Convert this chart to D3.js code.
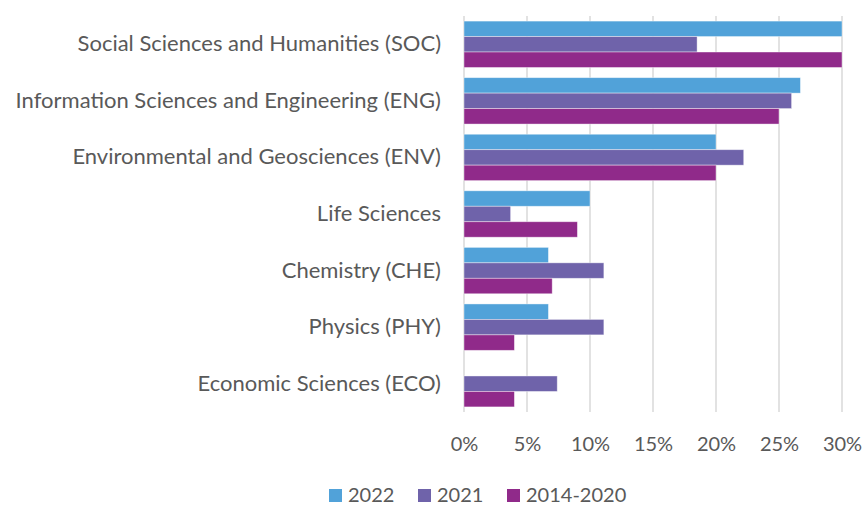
<!DOCTYPE html>
<html>
<head>
<meta charset="utf-8">
<script src="https://cdn.jsdelivr.net/npm/d3@7"></script>
<style>
    body { margin: 0; background: #fff; }
    text { font-family: Lato, "Open Sans", sans-serif; fill: #595959; }
</style>
</head>
<body>
<script>
const categories = [
    "Social Sciences and Humanities (SOC)",
    "Information Sciences and Engineering (ENG)",
    "Environmental and Geosciences (ENV)",
    "Life Sciences",
    "Chemistry (CHE)",
    "Physics (PHY)",
    "Economic Sciences (ECO)"
];
const seriesNames = ["2022", "2021", "2014-2020"];
const values2022 = [30, 26.7, 20, 10, 6.7, 6.7, 0];
const values2021 = [18.5, 26.0, 22.2, 3.7, 11.1, 11.1, 7.4];
const values2014 = [30, 25, 20, 9.0, 7.0, 4.0, 4.0];
const xTicks = [0, 5, 10, 15, 20, 25, 30];
const colors = ["#51a2d9", "#6f63aa", "#902a8a"];

const w = 865;
const h = 506;
const plotLeft = 464, plotRight = 842, plotTop = 16, plotBottom = 412;

const svg = d3.select("body")
    .append("svg")
    .attr("width", w)
    .attr("height", h);

const series = [values2022, values2021, values2014];

// Scales
const xScale = d3.scaleLinear().domain([0, 30]).range([plotLeft, plotRight]);
const yScale = d3.scaleBand().domain(categories).range([plotTop, plotBottom]).paddingInner(0.18).paddingOuter(0.09);
const ySub = d3.scaleBand().domain(seriesNames).range([0, yScale.bandwidth()]);

// gridlines
svg.append("g")
    .selectAll("line")
    .data(xTicks)
    .enter()
    .append("line")
    .attr("x1", d => xScale(d))
    .attr("x2", d => xScale(d))
    .attr("y1", plotTop)
    .attr("y2", plotBottom)
    .attr("stroke", "#d9d9d9")
    .attr("stroke-width", 1.5);

// bars
seriesNames.forEach((name, i) => {
    svg.append("g")
        .selectAll("rect")
        .data(categories.map((c, j) => ({ cat: c, v: series[i][j] })))
        .enter()
        .append("rect")
        .attr("x", xScale(0))
        .attr("y", d => yScale(d.cat) + ySub(name))
        .attr("width", d => xScale(d.v) - xScale(0))
        .attr("height", ySub.bandwidth())
        .attr("fill", colors[i])
        .attr("stroke", d => d.v > 0 ? "#ffffff" : "none")
        .attr("stroke-opacity", 0.5)
        .attr("stroke-width", 0.8);
});

// x axis
const xAxis = d3.axisBottom(xScale).tickValues(xTicks).tickFormat(d => d + "%").tickSize(0).tickPadding(0);
const gx = svg.append("g")
    .attr("transform", "translate(0," + 437 + ")")
    .call(xAxis);
gx.select(".domain").remove();
gx.selectAll("text").attr("font-size", 20).attr("dy", "0.71em").attr("fill", "#595959");

// y axis
const yAxis = d3.axisLeft(yScale).tickSize(0).tickPadding(23);
const gy = svg.append("g")
    .attr("transform", "translate(" + plotLeft + ",0)")
    .call(yAxis);
gy.select(".domain").remove();
gy.selectAll("text").attr("font-size", 22).attr("fill", "#595959");

// legend
const legendX = [329, 418, 507];
const legend = svg.append("g").attr("id", "legend");
seriesNames.forEach((name, i) => {
    legend.append("rect")
        .attr("x", legendX[i])
        .attr("y", 489)
        .attr("width", 13)
        .attr("height", 13)
        .attr("fill", colors[i]);
    legend.append("text")
        .attr("x", legendX[i] + 19)
        .attr("y", 502)
        .attr("font-size", 20)
        .text(name);
});
</script>
</body>
</html>
